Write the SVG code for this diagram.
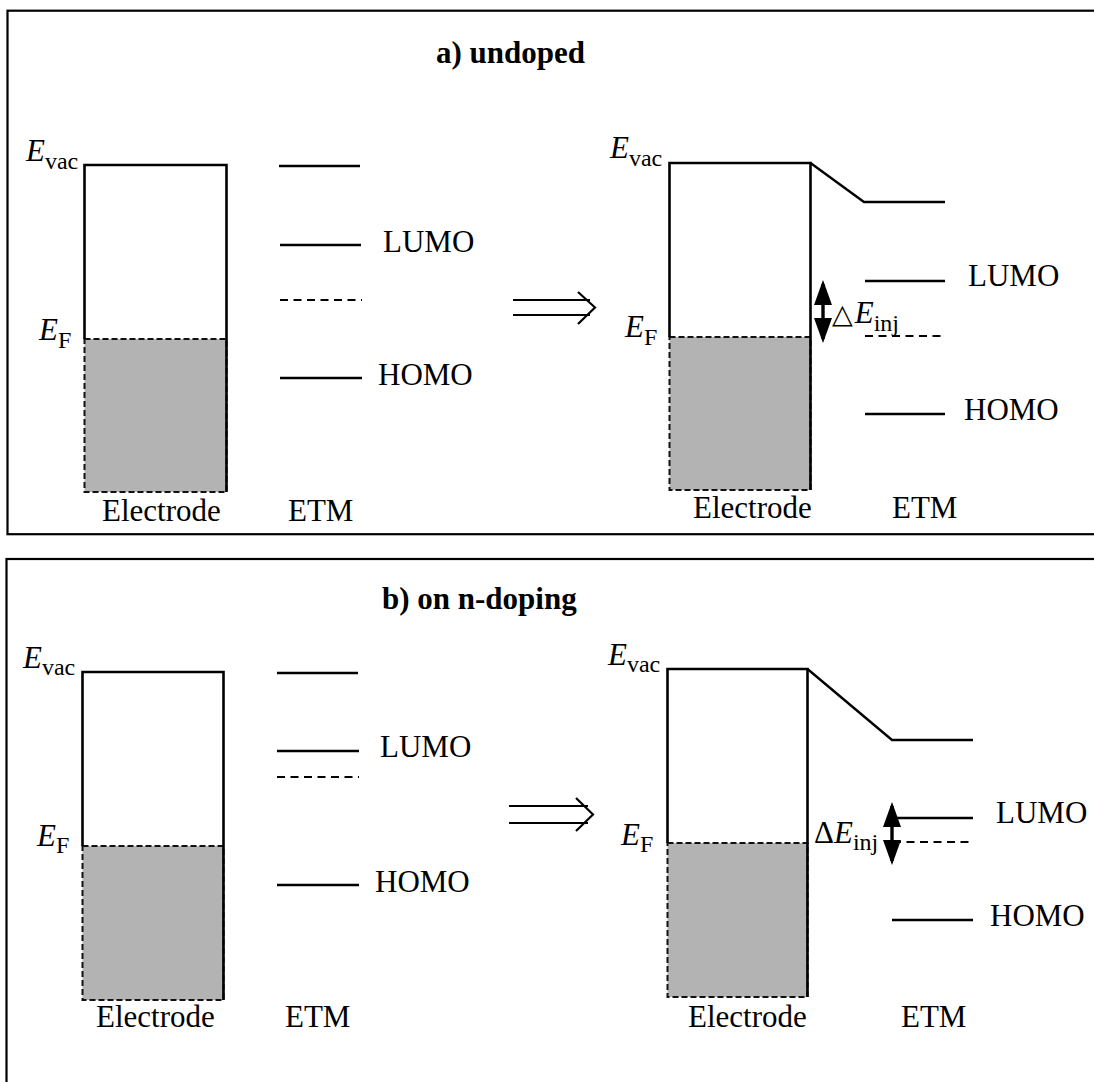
<svg xmlns="http://www.w3.org/2000/svg" width="1094" height="1082" viewBox="0 0 1094 1082">
<style>
  text { font-family: "Liberation Serif", "DejaVu Serif", "Times New Roman", serif; fill: #000; }
  .lbl { font-size: 31px; }
  .ttl { font-size: 31px; font-weight: bold; }
  .it { font-style: italic; }
  .sub { font-size: 24px; font-style: normal; }
  .frame { fill: none; stroke: #000; stroke-width: 2.2; }
  .box { fill: none; stroke: #000; stroke-width: 2.6; }
  .fill { fill: #b3b3b3; stroke: #111; stroke-width: 2; stroke-dasharray: 6 3; }
  .lvl { fill: none; stroke: #000; stroke-width: 2.4; }
  .dash { fill: none; stroke: #000; stroke-width: 2.2; stroke-dasharray: 8 5.5; }
  .dbl { fill: none; stroke: #000; stroke-width: 2.2; }
  .inj { stroke: #000; stroke-width: 3.4; marker-start: url(#ah); marker-end: url(#ah); }
</style>
<defs>
  <marker id="ah" markerUnits="userSpaceOnUse" markerWidth="28" markerHeight="20" refX="21" refY="10" orient="auto-start-reverse">
    <path d="M0,1 L25,10 L0,19 z" fill="#000"/>
  </marker>
</defs>
<rect width="1094" height="1082" fill="#fff"/>

<g id="frame-a"><rect class="frame" x="7.5" y="10.7" width="1100" height="523.5"/></g>
<g id="frame-b"><rect class="frame" x="6.5" y="559" width="1100" height="560"/></g>

<g font-family="Liberation Serif, DejaVu Serif, serif">
<g id="title-a"><text class="ttl" x="436" y="63">a) undoped</text></g>
<g id="title-b"><text class="ttl" x="382" y="609">b) on n-doping</text></g>

<!-- Panel a, left -->
<g id="a-left-electrode">
  <rect class="fill" x="84.5" y="339" width="142" height="153"/>
  <path class="box" d="M84.5,339 V165 H226.5 V492"/>
  <text class="lbl it" x="26" y="161">E<tspan class="sub" dy="8">vac</tspan></text>
  <text class="lbl it" x="39" y="340">E<tspan class="sub" dy="8">F</tspan></text>
  <text class="lbl" x="102" y="521">Electrode</text>
</g>
<g id="a-left-etm">
  <line class="lvl" x1="279" y1="166" x2="360" y2="166"/>
  <line class="lvl" x1="280" y1="245" x2="361" y2="245"/>
  <line class="dash" x1="280" y1="300" x2="362" y2="300"/>
  <line class="lvl" x1="280" y1="378" x2="362" y2="378"/>
  <text class="lbl" x="383" y="252">LUMO</text>
  <text class="lbl" x="378" y="385">HOMO</text>
  <text class="lbl" x="288" y="521">ETM</text>
</g>

<!-- Panel a, right -->
<g id="a-right-electrode">
  <rect class="fill" x="669.5" y="337" width="141" height="153"/>
  <path class="box" d="M669.5,337 V163 H810.5 V490"/>
  <text class="lbl it" x="610" y="158">E<tspan class="sub" dy="8">vac</tspan></text>
  <text class="lbl it" x="625" y="337">E<tspan class="sub" dy="8">F</tspan></text>
  <text class="lbl" x="693" y="518">Electrode</text>
</g>
<g id="a-right-etm">
  <path class="lvl" d="M810.5,163 L864,202 H945"/>
  <line class="lvl" x1="865" y1="281" x2="945" y2="281"/>
  <line class="dash" x1="865" y1="336" x2="946" y2="336"/>
  <line class="lvl" x1="865" y1="414" x2="945" y2="414"/>
  <text class="lbl" x="968" y="286">LUMO</text>
  <text class="lbl" x="964" y="420">HOMO</text>
  <text class="lbl" x="892" y="518">ETM</text>
  <text class="lbl" x="832" y="323"><tspan font-family="DejaVu Sans, sans-serif" font-size="27">△</tspan><tspan class="it" dx="2">E</tspan><tspan class="sub" dy="8">inj</tspan></text>
</g>

<!-- Panel b, left -->
<g id="b-left-electrode">
  <rect class="fill" x="82.5" y="846" width="141" height="154"/>
  <path class="box" d="M82.5,846 V672 H223.5 V1000"/>
  <text class="lbl it" x="23" y="668">E<tspan class="sub" dy="7">vac</tspan></text>
  <text class="lbl it" x="37" y="846">E<tspan class="sub" dy="7">F</tspan></text>
  <text class="lbl" x="96" y="1027">Electrode</text>
</g>
<g id="b-left-etm">
  <line class="lvl" x1="277" y1="673" x2="358" y2="673"/>
  <line class="lvl" x1="277" y1="751" x2="359" y2="751"/>
  <line class="dash" x1="277" y1="777" x2="359" y2="777"/>
  <line class="lvl" x1="277" y1="885" x2="359" y2="885"/>
  <text class="lbl" x="380" y="757">LUMO</text>
  <text class="lbl" x="375" y="892">HOMO</text>
  <text class="lbl" x="285" y="1027">ETM</text>
</g>

<!-- Panel b, right -->
<g id="b-right-electrode">
  <rect class="fill" x="667.5" y="843" width="140" height="154"/>
  <path class="box" d="M667.5,843 V669 H807.5 V997"/>
  <text class="lbl it" x="608" y="665">E<tspan class="sub" dy="7">vac</tspan></text>
  <text class="lbl it" x="621" y="845">E<tspan class="sub" dy="7">F</tspan></text>
  <text class="lbl" x="688" y="1027">Electrode</text>
</g>
<g id="b-right-etm">
  <path class="lvl" d="M807.5,669 L892,740 H973"/>
  <line class="lvl" x1="893" y1="818" x2="973" y2="818"/>
  <line class="dash" x1="893" y1="842" x2="973" y2="842"/>
  <line class="lvl" x1="892" y1="920" x2="973" y2="920"/>
  <text class="lbl" x="996" y="823">LUMO</text>
  <text class="lbl" x="990" y="926">HOMO</text>
  <text class="lbl" x="901" y="1027">ETM</text>
  <text class="lbl" x="814" y="843">Δ<tspan class="it">E</tspan><tspan class="sub" dy="7">inj</tspan></text>
</g>
</g>

<g id="connectors">
  <path class="dbl" d="M513,300 H590 M513,315 H590 M578,292 L595,307.5 L578,324"/>
  <path class="dbl" d="M509,806 H588 M509,823 H588 M576,798 L593,814.5 L576,831"/>
  <line class="inj" x1="823" y1="284" x2="823" y2="339"/>
  <line class="inj" x1="892" y1="806" x2="892" y2="861"/>
</g>
</svg>
